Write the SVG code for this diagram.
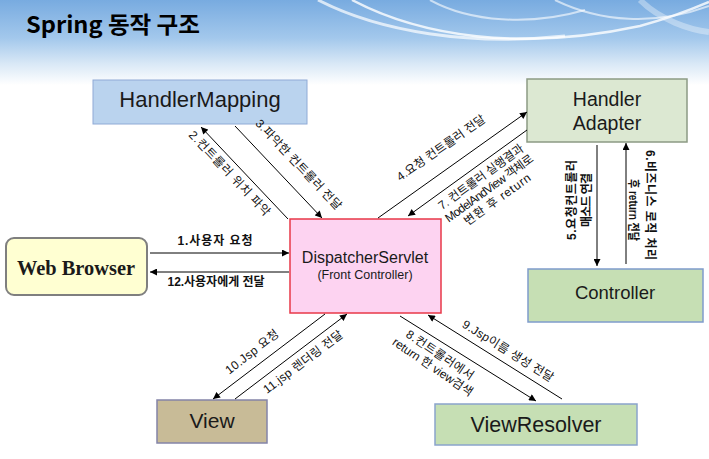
<svg xmlns="http://www.w3.org/2000/svg" width="709" height="459" viewBox="0 0 709 459">
<defs>
<linearGradient id="bg" x1="0" y1="0" x2="0" y2="1">
<stop offset="0" stop-color="#78abe0"/>
<stop offset="0.45" stop-color="#a3c8ec"/>
<stop offset="0.75" stop-color="#d9e8f6"/>
<stop offset="1" stop-color="#ffffff"/>
</linearGradient>
<marker id="ah" viewBox="0 0 10 10" refX="10" refY="5" markerWidth="8" markerHeight="7" markerUnits="userSpaceOnUse" orient="auto">
<path d="M0,0 L10,5 L0,10 z" fill="#000"/>
</marker>
<style>
.box text{font-family:'Liberation Sans',Arial,sans-serif;fill:#1a1a1a;text-anchor:middle}
.lbl{font-family:'Liberation Sans','Noto Sans CJK KR',sans-serif;font-size:12px;fill:#111;text-anchor:middle}
.b{font-weight:bold}
.conn line{stroke:#000;stroke-width:1;marker-end:url(#ah)}
.sw{fill:none;stroke:#fff}
</style>
</defs>
<rect x="0" y="0" width="709" height="459" fill="#fff"/>
<rect x="0" y="0" width="709" height="85" fill="url(#bg)"/>
<g id="swoosh">
<path class="sw" d="M318,0 C380,32 470,46 565,36" stroke-width="3" opacity="0.7"/>
<path class="sw" d="M352,0 C420,36 520,52 640,26 C670,18 695,8 709,2" stroke-width="2.5" opacity="0.8"/>
<path class="sw" d="M430,0 C470,22 530,26 585,10" stroke-width="2" opacity="0.6"/>
<path class="sw" d="M555,0 C600,22 655,26 709,6" stroke-width="2" opacity="0.6"/>
<path class="sw" d="M640,0 C660,20 690,30 709,32" stroke-width="6" opacity="0.35"/>
</g>
<text x="26" y="33" font-family="'Noto Sans CJK KR',sans-serif" font-weight="bold" font-size="23" textLength="174" lengthAdjust="spacingAndGlyphs" fill="#000">Spring 동작 구조</text>

<g id="handlerMapping" class="box">
<rect x="93" y="80" width="214" height="44" fill="#bad3ee" stroke="#8faad6"/>
<text x="200" y="107" font-size="22">HandlerMapping</text>
</g>
<g id="handlerAdapter" class="box">
<rect x="527" y="79" width="160" height="63" fill="#dce8d2" stroke="#8c9a84" stroke-width="1.5"/>
<text x="607" y="106" font-size="19.5">Handler</text>
<text x="607" y="130" font-size="19.5">Adapter</text>
</g>
<g id="webBrowser" class="box">
<rect x="6" y="238" width="141" height="57" rx="8" fill="#ffffd2" stroke="#7f7f7f" stroke-width="2"/>
<text x="76" y="275" font-size="21" font-weight="bold" textLength="118" lengthAdjust="spacingAndGlyphs" style="font-family:'Liberation Serif',serif">Web Browser</text>
</g>
<g id="dispatcherServlet" class="box">
<rect x="290" y="219" width="151" height="94" fill="#fdd3f1" stroke="#e83848" stroke-width="1.5"/>
<text x="365" y="263" font-size="16">DispatcherServlet</text>
<text x="365" y="279" font-size="12.5">(Front Controller)</text>
</g>
<g id="controller" class="box">
<rect x="528" y="269" width="175" height="53" fill="#c6dfb4" stroke="#7f9ccc" stroke-width="1.5"/>
<text x="615" y="299" font-size="18.5">Controller</text>
</g>
<g id="view" class="box">
<rect x="157" y="400" width="110" height="43" fill="#c8bb97" stroke="#8484a8" stroke-width="1.5"/>
<text x="212" y="428" font-size="21">View</text>
</g>
<g id="viewResolver" class="box">
<rect x="435" y="404" width="202" height="41" fill="#c6dfb4" stroke="#8aa4cc" stroke-width="1.5"/>
<text x="536" y="432" font-size="21.5">ViewResolver</text>
</g>

<g id="connectors" class="conn">
<line x1="150" y1="253" x2="289" y2="253"/>
<line x1="289" y1="272" x2="150" y2="272"/>
<line x1="288" y1="219" x2="201" y2="127"/>
<line x1="235" y1="126" x2="322" y2="218"/>
<line x1="378" y1="218" x2="527" y2="112"/>
<line x1="527" y1="130" x2="408" y2="216"/>
<line x1="597" y1="145" x2="597" y2="266"/>
<line x1="626" y1="264" x2="626" y2="143"/>
<line x1="325" y1="314" x2="213" y2="399"/>
<line x1="235" y1="399" x2="347" y2="314"/>
<line x1="400" y1="316" x2="536" y2="401"/>
<line x1="562" y1="399" x2="428" y2="315"/>
</g>

<g id="labels">
<text class="lbl b" x="215" y="245" textLength="75" lengthAdjust="spacing">1.사용자 요청</text>
<text class="lbl b" x="216" y="286" textLength="97" lengthAdjust="spacing">12.사용자에게 전달</text>
<text class="lbl" transform="translate(229.5,173.4) rotate(46.6)" y="4" textLength="112" lengthAdjust="spacing">2.컨트롤러 위치 파악</text>
<text class="lbl" transform="translate(298.5,164.6) rotate(46.6)" y="4" textLength="119" lengthAdjust="spacing">3.파악한 컨트롤러 전달</text>
<text class="lbl" transform="translate(441,148) rotate(-35)" y="4" textLength="105" lengthAdjust="spacing">4.요청 컨트롤러 전달</text>
<text class="lbl" transform="translate(481,177) rotate(-36)" y="4" textLength="102" lengthAdjust="spacing">7. 컨트롤러 실행결과</text>
<text class="lbl" transform="translate(489.2,188.3) rotate(-36)" y="4" textLength="106" lengthAdjust="spacing">ModelAndView 객체로</text>
<text class="lbl" transform="translate(497.4,199.6) rotate(-36)" y="4" textLength="79" lengthAdjust="spacing">변환 후 return</text>
<text class="lbl b" transform="translate(572,200) rotate(-90)" y="4" textLength="80" lengthAdjust="spacing">5.요청컨트롤러</text>
<text class="lbl b" transform="translate(587,200) rotate(-90)" y="4" font-size="10.5" textLength="54" lengthAdjust="spacing">매소드 연결</text>
<text class="lbl b" transform="translate(650,205) rotate(90)" y="4" textLength="110" lengthAdjust="spacing">6.비즈니스 로직 처리</text>
<text class="lbl b" transform="translate(633,210) rotate(90)" y="4" font-size="10" textLength="62" lengthAdjust="spacingAndGlyphs">후 return 전달</text>
<text class="lbl" transform="translate(252,352) rotate(-38)" y="4" textLength="64" lengthAdjust="spacing">10.Jsp 요청</text>
<text class="lbl" transform="translate(303,362) rotate(-37)" y="4" textLength="96" lengthAdjust="spacing">11.jsp 렌더링 전달</text>
<text class="lbl" transform="translate(440,355) rotate(34)" y="4" textLength="79" lengthAdjust="spacing">8.컨트롤러에서</text>
<text class="lbl" transform="translate(432.6,367) rotate(34)" y="4" textLength="94" lengthAdjust="spacing">return 한 view검색</text>
<text class="lbl" transform="translate(508,351) rotate(32)" y="4" textLength="105" lengthAdjust="spacing">9.Jsp이름 생성 전달</text>
</g>
</svg>
